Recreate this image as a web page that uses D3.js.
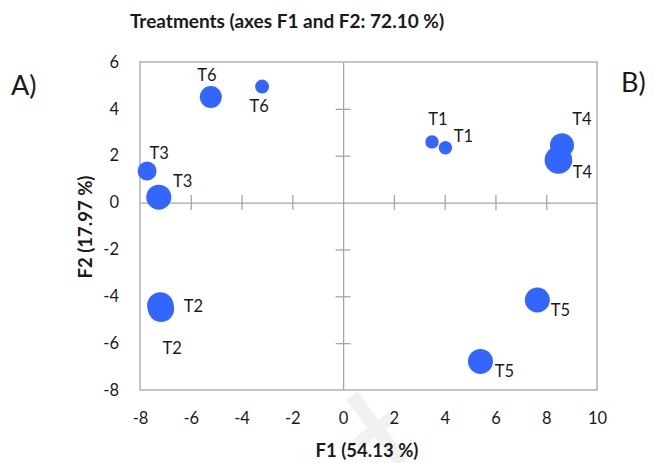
<!DOCTYPE html>
<html>
<head>
<meta charset="utf-8">
<script src="https://cdn.jsdelivr.net/npm/d3@7"></script>
<style>
  html, body { margin: 0; padding: 0; background: #fff; }
  svg { display: block; font-family: Lato, "Liberation Sans", sans-serif; }
</style>
</head>
<body>
<svg id="chart" width="654" height="463"></svg>
<script>
// PCA scores of the treatments on the first two factors
const treatments = ["T1", "T1", "T2", "T2", "T3", "T3", "T4", "T4", "T5", "T5", "T6", "T6"];
const f1Scores   = [3.50, 4.03, -7.20, -7.17, -7.72, -7.26, 8.62, 8.48, 7.65, 5.41, -5.21, -3.19];
const f2Scores   = [2.59, 2.34, -4.39, -4.54, 1.35, 0.23, 2.45, 1.82, -4.16, -6.78, 4.51, 4.95];
const weights    = [45, 45, 174, 169, 90, 156, 144, 190, 156, 156, 121, 49];

const xTicks = [-8, -6, -4, -2, 0, 2, 4, 6, 8, 10];
const yTicks = [-8, -6, -4, -2, 0, 2, 4, 6];

const title  = "Treatments (axes F1 and F2: 72.10 %)";
const xTitle = "F1 (54.13 %)";
const yTitle = "F2 (17.97 %)";

// label placement relative to each bubble centre (px)
const labelOffsets = [
  [6, -23], [18, -12], [33, 1], [11, 39], [12, -18], [24, -16],
  [20, -26], [24, 12], [23, 10], [24, 10], [-4, -22], [-3, 19]
];

const svg = d3.select("#chart");
const plotL = 140, plotR = 597, plotT = 62, plotB = 390;

const x = d3.scaleLinear().domain([-8, 10]).range([plotL, plotR]);
const y = d3.scaleLinear().domain([-8, 6]).range([plotB, plotT]);
const r = d3.scaleSqrt().domain([0, 196]).range([0, 14]);

const axisColor = "#a6a6a6";
const textColor = "#1a1a1a";

// faint background watermark
const wm = svg.append("g").attr("fill", "none").attr("stroke", "#f1f1f1")
  .attr("stroke-linecap", "butt");
wm.append("path").attr("d", "M352,396 L402,463").attr("stroke-width", 14);
wm.append("path").attr("d", "M356,446 Q372,430 392,418").attr("stroke-width", 12);

// plot frame
svg.append("rect")
  .attr("x", plotL).attr("y", plotT)
  .attr("width", plotR - plotL).attr("height", plotB - plotT)
  .attr("fill", "none").attr("stroke", axisColor).attr("stroke-width", 1.3);

// outer tick labels
const gx = svg.append("g").attr("transform", `translate(0,${plotB})`)
  .call(d3.axisBottom(x).tickValues(xTicks).tickSize(0).tickPadding(22).tickFormat(d3.format("d")));
const gy = svg.append("g").attr("transform", `translate(${plotL},0)`)
  .call(d3.axisLeft(y).tickValues(yTicks).tickSize(0).tickPadding(21).tickFormat(d3.format("d")));
[gx, gy].forEach(g => {
  g.select(".domain").remove();
  g.selectAll("text").attr("font-size", 16.5).attr("fill", textColor)
    .attr("font-family", "Lato, 'Liberation Sans', sans-serif");
});
gx.selectAll("text").text(d => d < 0 ? "-" + Math.abs(d) : d);
gy.selectAll("text").text(d => d < 0 ? "-" + Math.abs(d) : d);

// axes through the origin with crossing ticks
const x0 = svg.append("g").attr("transform", `translate(0,${y(0)})`)
  .call(d3.axisBottom(x).tickValues(xTicks.filter(d => d > -8 && d < 10 && d !== 0)).tickSize(0).tickFormat(""));
const y0 = svg.append("g").attr("transform", `translate(${x(0)},0)`)
  .call(d3.axisLeft(y).tickValues(yTicks.filter(d => d > -8 && d < 6 && d !== 0)).tickSize(0).tickFormat(""));
x0.select(".domain").attr("stroke", axisColor).attr("stroke-width", 1.3);
y0.select(".domain").attr("stroke", axisColor).attr("stroke-width", 1.3);
x0.selectAll(".tick line").attr("y1", -7.5).attr("y2", 7.5).attr("stroke", axisColor).attr("stroke-width", 1.3);
y0.selectAll(".tick line").attr("x1", -7.5).attr("x2", 7.5).attr("stroke", axisColor).attr("stroke-width", 1.3);

// bubbles
const pts = treatments.map((t, i) => ({ t, f1: f1Scores[i], f2: f2Scores[i], w: weights[i], off: labelOffsets[i] }));
svg.append("g").selectAll("circle").data(pts).join("circle")
  .attr("cx", d => x(d.f1)).attr("cy", d => y(d.f2)).attr("r", d => r(d.w))
  .attr("fill", "#3366ff");

// point labels
svg.append("g").selectAll("text").data(pts).join("text")
  .attr("x", d => x(d.f1) + d.off[0]).attr("y", d => y(d.f2) + d.off[1])
  .attr("text-anchor", "middle").attr("dominant-baseline", "central")
  .attr("font-size", 16.5).attr("fill", textColor)
  .text(d => d.t);

// titles
svg.append("text").attr("x", 287).attr("y", 28).attr("text-anchor", "middle")
  .attr("font-size", 19).attr("font-weight", "bold").attr("fill", textColor).text(title);
svg.append("text").attr("x", 367).attr("y", 457).attr("text-anchor", "middle")
  .attr("font-size", 18.5).attr("font-weight", "bold").attr("fill", textColor).text(xTitle);
svg.append("text").attr("transform", "translate(92,227) rotate(-90)").attr("text-anchor", "middle")
  .attr("font-size", 18.5).attr("font-weight", "bold").attr("fill", textColor).text(yTitle);

// panel letters
svg.append("text").attr("x", 11).attr("y", 95).attr("font-size", 27).attr("fill", textColor).text("A)");
svg.append("text").attr("x", 621).attr("y", 92).attr("font-size", 27).attr("fill", textColor).text("B)");
</script>
</body>
</html>
